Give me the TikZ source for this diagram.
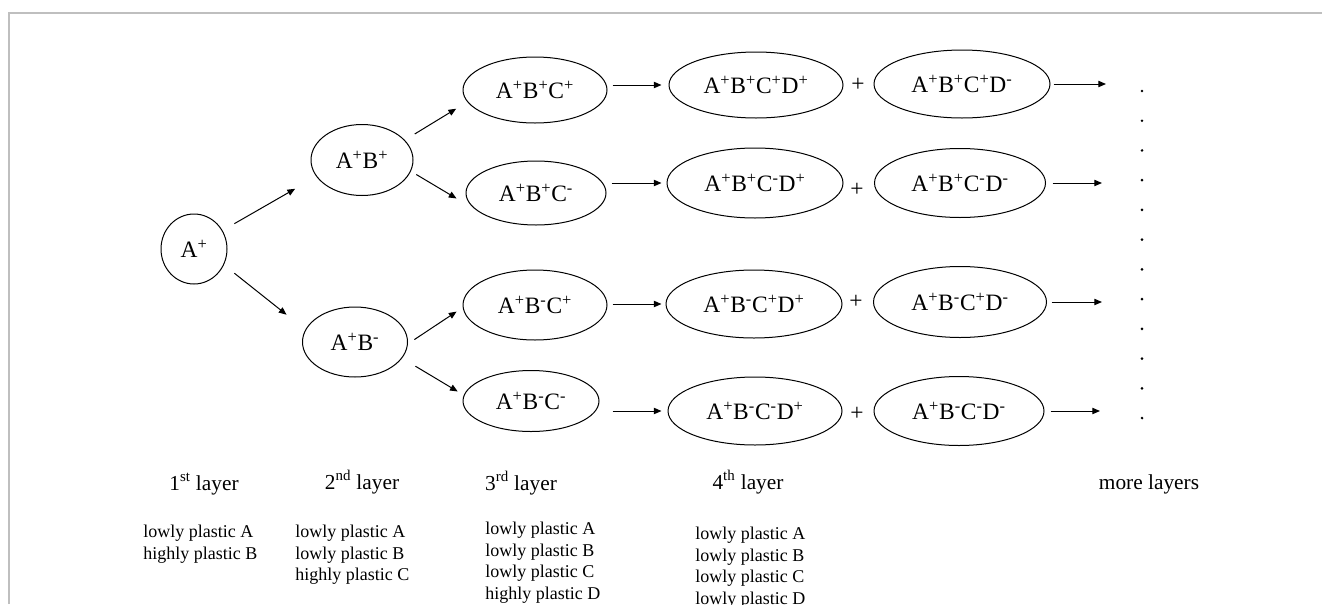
\documentclass[tikz,border=0pt]{standalone}
\usepackage{fontspec}
\setmainfont{Liberation Serif}
\usetikzlibrary{shapes.geometric,arrows.meta}
\newcommand\spP{\textsuperscript{+}}
\newcommand\spM{\textsuperscript{-}}
\begin{document}
\begin{tikzpicture}[x=0.75pt,y=-0.75pt,
  ell/.style={draw, ellipse, inner sep=0pt, line width=0.75pt, font=\fontsize{17.6}{20}\selectfont},
  arr/.style={-{Triangle[length=5.8pt,width=4.8pt]}, line width=0.75pt},
  lay/.style={font=\fontsize{16}{19}\selectfont, inner sep=0pt},
  lst/.style={font=\fontsize{13.5}{16.1}\selectfont, align=left, anchor=north west, inner sep=0pt},
  pl/.style={font=\fontsize{17.6}{20}\selectfont, inner sep=0pt}]
\useasboundingbox (0,0) rectangle (1322,604);
\draw[black!25, line width=1.1pt] (9,604) -- (9,13) -- (1322,13);

% 1st and 2nd layer
\node[ell, minimum width=49.5pt, minimum height=52.5pt] (Ap) at (194,249) {A\spP};
\node[ell, minimum width=76.5pt, minimum height=53.25pt] (ApBp) at (362,160) {A\spP B\spP};
\node[ell, minimum width=78.75pt, minimum height=52.5pt] (ApBm) at (355,342) {A\spP B\spM};

% 3rd layer
\node[ell, minimum width=108pt, minimum height=49.5pt] (ApBpCp) at (535,90) {A\spP B\spP C\spP};
\node[ell, minimum width=105pt, minimum height=48pt] (ApBpCm) at (536,193) {A\spP B\spP C\spM};
\node[ell, minimum width=108pt, minimum height=52.5pt] (ApBmCp) at (535,305) {A\spP B\spM C\spP};
\node[ell, minimum width=102pt, minimum height=45.75pt] (ApBmCm) at (531,401) {A\spP B\spM C\spM};

% 4th layer, D+
\node[ell, minimum width=130.5pt, minimum height=49.5pt] (R1p) at (756,85) {A\spP B\spP C\spP D\spP};
\node[ell, minimum width=132pt, minimum height=52.5pt] (R2p) at (755,183) {A\spP B\spP C\spM D\spP};
\node[ell, minimum width=132pt, minimum height=51pt] (R3p) at (754,304) {A\spP B\spM C\spP D\spP};
\node[ell, minimum width=130.5pt, minimum height=51pt] (R4p) at (755,411) {A\spP B\spM C\spM D\spP};

% 4th layer, D-
\node[ell, minimum width=132pt, minimum height=51pt] (R1m) at (962,84) {A\spP B\spP C\spP D\spM};
\node[ell, minimum width=128.25pt, minimum height=51.75pt] (R2m) at (960,183) {A\spP B\spP C\spM D\spM};
\node[ell, minimum width=129.75pt, minimum height=53.25pt] (R3m) at (960,302) {A\spP B\spM C\spP D\spM};
\node[ell, minimum width=127.5pt, minimum height=51.75pt] (R4m) at (959,411) {A\spP B\spM C\spM D\spM};

% plus signs
\node[pl] (p1) at (858,85) {+};
\node[pl] (p2) at (857,190) {+};
\node[pl] (p3) at (856,302) {+};
\node[pl] (p4) at (857,414) {+};

% diagonal arrows
\draw[arr, shorten <=10.2pt, shorten >=18.3pt] (Ap.33) -- (ApBp.200.8);
\draw[arr, shorten <=10.05pt, shorten >=18pt] (Ap.332) -- (ApBm.166.2);
\draw[arr, shorten <=8.7pt, shorten >=9.75pt] (ApBp.25.7) -- (ApBpCp.190.6);
\draw[arr, shorten <=4.7pt, shorten >=17.1pt] (ApBp.347.5) -- (ApBpCm.196.8);
\draw[arr, shorten <=5.8pt, shorten >=5.5pt] (ApBm.358.8) -- (ApBmCp.182.5);
\draw[arr, shorten <=11.6pt, shorten >=5.25pt] (ApBm.341.1) -- (ApBmCm.175.4);

% 3rd -> 4th arrows
\draw[arr, shorten <=3.75pt, shorten >=5.25pt] (ApBpCp.east |- R1p.west) -- (R1p.west);
\draw[arr, shorten <=3.75pt, shorten >=3.75pt] (ApBpCm.east |- R2p.west) -- (R2p.west);
\draw[arr, shorten <=3.75pt, shorten >=3pt] (ApBmCp.east |- R3p.west) -- (R3p.west);
\draw[arr, shorten <=9.75pt, shorten >=4.5pt] (ApBmCm.east |- R4p.west) -- (R4p.west);

% outgoing arrows
\coordinate (o1) at (1106,84);
\coordinate (o2) at (1102,183);
\coordinate (o3) at (1102,302);
\coordinate (o4) at (1100,411);
\draw[arr, shorten <=2.25pt] (R1m.east) -- (o1);
\draw[arr, shorten <=4.9pt] (R2m.east) -- (o2);
\draw[arr, shorten <=3.4pt] (R3m.east) -- (o3);
\draw[arr, shorten <=4.5pt] (R4m.east) -- (o4);

% dots
\foreach \i in {0,...,11} \fill ({1142},{91+29.73*\i}) circle (1.1pt);

% layer labels
\node[lay] (L1) at (204,484) {1\textsuperscript{st} layer};
\node[lay] (L2) at (362,482) {2\textsuperscript{nd} layer};
\node[lay] (L3) at (521,483) {3\textsuperscript{rd} layer};
\node[lay] (L4) at (748,482) {4\textsuperscript{th} layer};
\node[lay] (L5) at (1149,484) {more layers};

% descriptions
\node[lst] (T1) at (143,525) {lowly plastic A\\highly plastic B};
\node[lst] (T2) at (295,525) {lowly plastic A\\lowly plastic B\\highly plastic C};
\node[lst] (T3) at (485,522) {lowly plastic A\\lowly plastic B\\lowly plastic C\\highly plastic D};
\node[lst] (T4) at (695,527) {lowly plastic A\\lowly plastic B\\lowly plastic C\\lowly plastic D};
\end{tikzpicture}
\end{document}
